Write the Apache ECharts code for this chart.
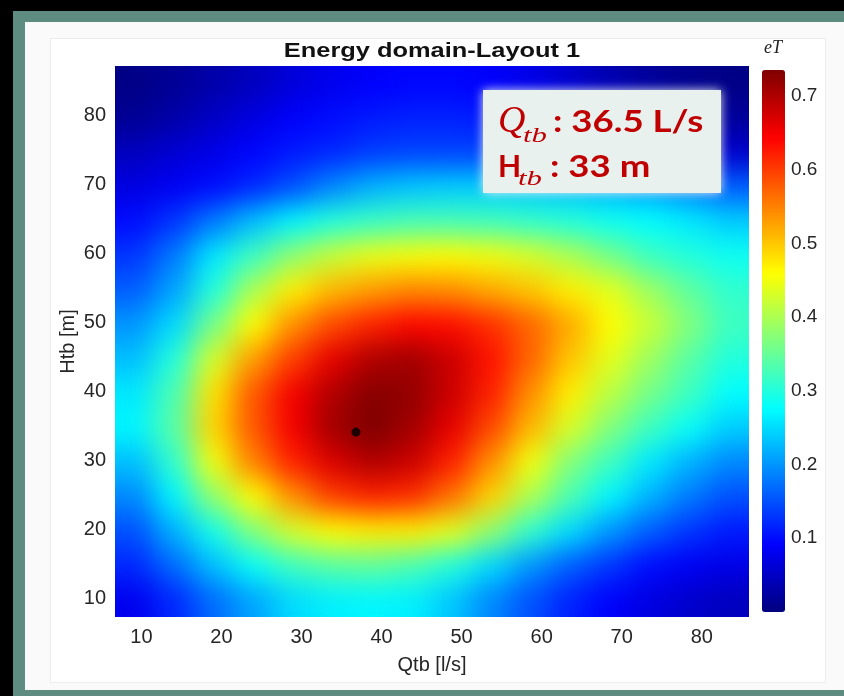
<!DOCTYPE html>
<html>
<head>
<meta charset="utf-8">
<script src="https://cdn.jsdelivr.net/npm/echarts@6/dist/echarts.min.js"></script>
<style>
  html, body { margin: 0; padding: 0; background: #000; }
  #page { position: relative; width: 844px; height: 696px; overflow: hidden; background: #000; }
  .frame { position: absolute; left: 13px; top: 11px; width: 831px; height: 685px; background: #5f8c80; }
  .panel { position: absolute; left: 25px; top: 22px; width: 819px; height: 668px; background: #fafafa; }
  .figure { position: absolute; left: 50px; top: 38px; width: 774px; height: 643px; background: #fff; border: 1px solid #ededed; }
  #heat { position: absolute; left: 115px; top: 66px; width: 634px; height: 551px; filter: url(#soft); }
  #chart { position: absolute; left: 0; top: 0; width: 844px; height: 696px; }
</style>
</head>
<body>
<svg width="0" height="0" style="position:absolute">
  <filter id="soft" x="0" y="0" width="1" height="1" color-interpolation-filters="sRGB">
    <feGaussianBlur stdDeviation="14"/>
    <feComponentTransfer><feFuncA type="table" tableValues="1 1"/></feComponentTransfer>
  </filter>
</svg>
<div id="page">
  <div class="frame"></div>
  <div class="panel"></div>
  <div class="figure"></div>
  <div id="heat"></div>
  <div id="chart"></div>
</div>
<script>
// grid: Qtb columns, Htb rows (bottom to top), eT values
const qCats = ['9', '14', '19', '24', '29', '34', '39', '44', '49', '54', '59', '64', '69', '74', '79', '84'];
const hCats = ['10', '15', '20', '25', '30', '35', '40', '45', '50', '55', '60', '65', '70', '75', '80', '85'];

const h10 = [0.08, 0.12, 0.17, 0.21, 0.25, 0.265, 0.27, 0.265, 0.235, 0.19, 0.15, 0.115, 0.09, 0.07, 0.055, 0.045];
const h15 = [0.12, 0.17, 0.23, 0.28, 0.32, 0.34, 0.345, 0.33, 0.30, 0.25, 0.20, 0.16, 0.13, 0.10, 0.085, 0.075];
const h20 = [0.15, 0.22, 0.29, 0.37, 0.43, 0.46, 0.47, 0.47, 0.44, 0.38, 0.31, 0.25, 0.20, 0.16, 0.13, 0.11];
const h25 = [0.19, 0.27, 0.38, 0.46, 0.54, 0.60, 0.62, 0.61, 0.56, 0.49, 0.40, 0.33, 0.27, 0.22, 0.18, 0.15];
const h30 = [0.23, 0.31, 0.45, 0.55, 0.62, 0.67, 0.70, 0.68, 0.62, 0.54, 0.45, 0.37, 0.32, 0.26, 0.22, 0.19];
const h35 = [0.27, 0.34, 0.49, 0.58, 0.65, 0.71, 0.735, 0.71, 0.66, 0.59, 0.51, 0.43, 0.37, 0.32, 0.28, 0.24];
const h40 = [0.26, 0.33, 0.48, 0.58, 0.65, 0.70, 0.73, 0.72, 0.68, 0.62, 0.54, 0.47, 0.41, 0.36, 0.32, 0.275];
const h45 = [0.23, 0.30, 0.43, 0.53, 0.60, 0.66, 0.70, 0.71, 0.68, 0.63, 0.57, 0.50, 0.44, 0.39, 0.34, 0.30];
const h50 = [0.20, 0.25, 0.36, 0.46, 0.54, 0.59, 0.62, 0.64, 0.635, 0.61, 0.57, 0.52, 0.46, 0.42, 0.37, 0.32];
const h55 = [0.16, 0.21, 0.30, 0.40, 0.47, 0.51, 0.53, 0.545, 0.54, 0.52, 0.50, 0.47, 0.44, 0.39, 0.345, 0.31];
const h60 = [0.13, 0.18, 0.26, 0.32, 0.38, 0.42, 0.445, 0.455, 0.46, 0.45, 0.43, 0.40, 0.36, 0.32, 0.30, 0.285];
const h65 = [0.10, 0.13, 0.18, 0.23, 0.27, 0.30, 0.315, 0.325, 0.325, 0.32, 0.31, 0.30, 0.285, 0.275, 0.26, 0.24];
const h70 = [0.07, 0.085, 0.10, 0.12, 0.15, 0.19, 0.22, 0.235, 0.24, 0.24, 0.235, 0.23, 0.22, 0.205, 0.185, 0.16];
const h75 = [0.045, 0.06, 0.075, 0.095, 0.11, 0.12, 0.135, 0.14, 0.14, 0.14, 0.135, 0.125, 0.11, 0.09, 0.07, 0.055];
const h80 = [0.015, 0.03, 0.05, 0.07, 0.09, 0.10, 0.11, 0.115, 0.115, 0.11, 0.10, 0.085, 0.065, 0.045, 0.03, 0.02];
const h85 = [0.005, 0.015, 0.03, 0.045, 0.065, 0.08, 0.09, 0.095, 0.095, 0.09, 0.075, 0.055, 0.035, 0.02, 0.01, 0.005];

const rows = [h10, h15, h20, h25, h30, h35, h40, h45, h50, h55, h60, h65, h70, h75, h80, h85];

const xTicks = [10, 20, 30, 40, 50, 60, 70, 80];
const yTicks = [10, 20, 30, 40, 50, 60, 70, 80];
const cbTicks = [0.1, 0.2, 0.3, 0.4, 0.5, 0.6, 0.7];
const optimum = [[36.8, 34.1]];

const jet = ['#00007f', '#0000ff', '#007fff', '#00ffff', '#7fff7f', '#ffff00', '#ff7f00', '#ff0000', '#7f0000'];
const font = 'Liberation Sans, Arial, sans-serif';
const red = '#c00000';

const cells = [];
rows.forEach((row, j) => {
  row.forEach((v, i) => cells.push([i, j, v]));
});

// heat layer: the cells, softened by the svg filter on its div
const heat = echarts.init(document.getElementById('heat'));
heat.setOption({
  animation: false,
  grid: { left: 0, right: 0, top: 0, bottom: 0 },
  xAxis: { type: 'category', data: qCats, show: false },
  yAxis: { type: 'category', data: hCats, show: false },
  visualMap: { show: false, min: 0, max: 0.735, inRange: { color: jet } },
  series: [{ type: 'heatmap', data: cells, silent: true, itemStyle: { borderWidth: 0 } }],
});

// axes, colorbar, marker and labels on top
const chart = echarts.init(document.getElementById('chart'));
chart.setOption({
  animation: false,
  textStyle: { fontFamily: font },
  grid: [
    { left: 115, top: 66, width: 634, height: 551 },
    { left: 762, top: 70, width: 23, height: 542 },
  ],
  xAxis: [
    {
      type: 'value', gridIndex: 0, min: 6.7, max: 85.9,
      axisLine: { show: false }, axisTick: { show: false }, splitLine: { show: false },
      axisLabel: { customValues: xTicks, color: '#262626', fontSize: 20, margin: 10 },
      name: 'Qtb [l/s]', nameLocation: 'middle', nameGap: 38, nameMoveOverlap: false,
      nameTextStyle: { color: '#262626', fontSize: 20 },
    },
    { type: 'value', gridIndex: 1, show: false, min: 0, max: 1 },
  ],
  yAxis: [
    {
      type: 'value', gridIndex: 0, min: 7.25, max: 87.25,
      axisLine: { show: false }, axisTick: { show: false }, splitLine: { show: false },
      axisLabel: { customValues: yTicks, color: '#262626', fontSize: 20, margin: 9 },
      name: 'Htb [m]', nameLocation: 'middle', nameGap: 37, nameMoveOverlap: false,
      nameTextStyle: { color: '#262626', fontSize: 20 },
    },
    {
      type: 'value', gridIndex: 1, position: 'right', min: 0, max: 0.735,
      axisLine: { show: false }, splitLine: { show: false }, axisTick: { show: false },
      axisLabel: { customValues: cbTicks, color: '#262626', fontSize: 19, margin: 6 },
    },
  ],
  visualMap: {
    type: 'continuous', seriesIndex: [], min: 0, max: 0.735,
    inRange: { color: jet }, calculable: false, hoverLink: false,
    itemWidth: 23, itemHeight: 542, left: 762, top: 70, padding: 0,
  },
  series: [
    {
      type: 'scatter', xAxisIndex: 0, yAxisIndex: 0, data: optimum,
      symbolSize: 9, itemStyle: { color: '#000' }, silent: true,
    },
  ],
  graphic: [
    {
      type: 'text', x: 432, y: 51, scaleX: 1.27,
      style: { text: 'Energy domain-Layout 1', font: 'bold 20px ' + font, fill: '#111', align: 'center', verticalAlign: 'middle' },
    },
    {
      type: 'text', x: 773, y: 48,
      style: { text: 'eT', font: 'italic 18px Liberation Serif, serif', fill: '#222', align: 'center', verticalAlign: 'middle' },
    },
    {
      type: 'rect', shape: { x: 483, y: 90, width: 238, height: 103 },
      style: { fill: '#e9f1ef', shadowBlur: 10, shadowColor: 'rgba(238,245,243,0.95)' },
    },
    {
      type: 'text', x: 498, y: 122,
      style: { text: 'Q', font: 'italic 38px Liberation Serif, serif', fill: red, verticalAlign: 'middle' },
    },
    {
      type: 'text', x: 523, y: 136, scaleX: 1.4,
      style: { text: 'tb', font: 'italic 22px Liberation Serif, serif', fill: red, verticalAlign: 'middle' },
    },
    {
      type: 'text', x: 553, y: 122.5, scaleX: 1.22,
      style: { text: ': 36.5 L/s', font: 'bold 30px Lato, sans-serif', fill: red, verticalAlign: 'middle' },
    },
    {
      type: 'text', x: 498, y: 167.5,
      style: { text: 'H', font: 'bold 30px Lato, sans-serif', fill: red, verticalAlign: 'middle' },
    },
    {
      type: 'text', x: 518, y: 179, scaleX: 1.4,
      style: { text: 'tb', font: 'italic 22px Liberation Serif, serif', fill: red, verticalAlign: 'middle' },
    },
    {
      type: 'text', x: 550, y: 167.5, scaleX: 1.22,
      style: { text: ': 33 m', font: 'bold 30px Lato, sans-serif', fill: red, verticalAlign: 'middle' },
    },
  ],
});
</script>
</body>
</html>
